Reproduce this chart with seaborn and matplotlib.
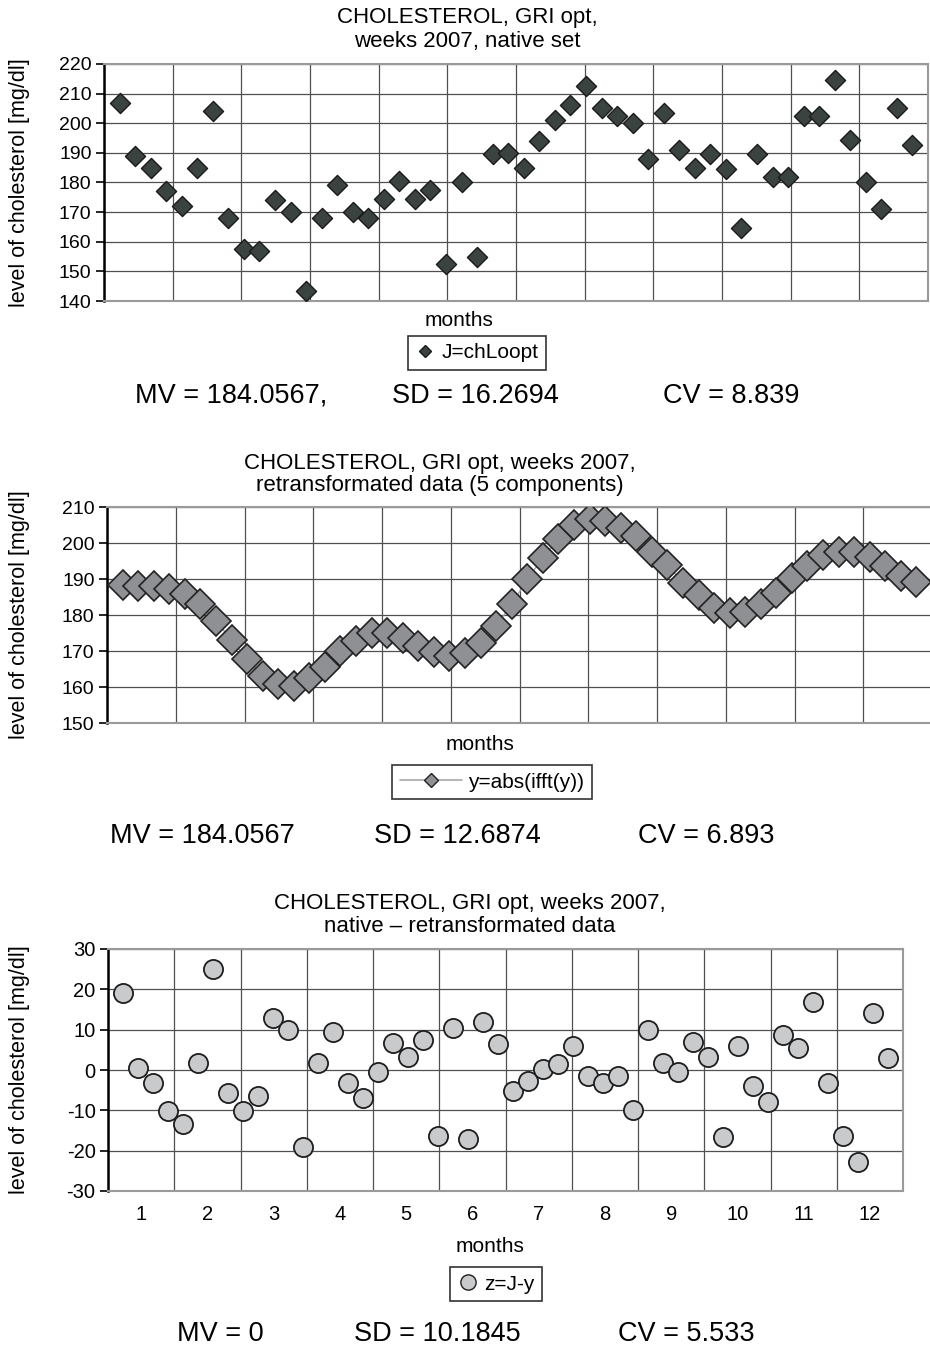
import numpy as np
import pandas as pd
import seaborn as sns
import matplotlib.pyplot as plt
from matplotlib.lines import Line2D

# weeks of 2007
weeks = list(range(1, 53))
month_labels = [str(m) for m in range(1, 13)]

# native cholesterol values [mg/dl]
native = [207, 189, 185, 177, 172, 185, 204, 168, 157.5, 157,
          174, 170, 143.5, 168, 179, 170, 168, 174.5, 180.5, 174.5,
          177.5, 152.5, 180, 155, 189.5, 190, 185, 194, 201, 206,
          212.5, 205, 202.5, 200, 188, 203.5, 191, 185, 189.5, 184.5,
          164.5, 189.5, 182, 182, 202.5, 202.5, 214.5, 194.5, 180, 171,
          205, 192.5]

# retransformed data (5 components)
retrans = [188.2, 188.0, 188.0, 187.3, 185.7, 183.0, 178.3, 173.1, 167.7, 163.1,
           160.8, 160.3, 162.6, 165.6, 170.0, 172.8, 174.9, 174.9, 173.7, 171.4,
           169.7, 168.6, 169.4, 172.3, 176.9, 183.0, 189.9, 195.9, 201.2, 204.9,
           206.6, 206.1, 204.3, 201.9, 197.5, 193.8, 189.0, 185.5, 182.0, 180.5,
           180.8, 183.0, 186.2, 190.4, 193.6, 196.6, 197.5, 197.5, 196.2, 193.6,
           190.8, 189.2]

# native - retransformed
resid = [19.0, 0.6, -3.1, -10.1, -13.5, 1.8, 25.0, -5.6, -10.2, -6.5,
         13.0, 9.9, -19.2, 1.8, 9.4, -3.3, -6.9, -0.4, 6.6, 3.3,
         7.4, -16.3, 10.3, -17.2, 12.0, 6.5, -5.1, -2.7, 0.2, 1.4,
         6.0, -1.5, -3.1, -1.5, -9.8, 9.9, 1.8, -0.4, 7.0, 3.3,
         -16.7, 6.0, -4.0, -8.0, 8.7, 5.5, 16.8, -3.1, -16.3, -22.8,
         14.1, 2.9]

df = pd.DataFrame({"week": weeks, "J": native, "y": retrans, "z": resid})

sns.set_style("white")
plt.rcParams["font.family"] = ["Liberation Sans", "DejaVu Sans"]
plt.rcParams["axes.unicode_minus"] = False
for k in ["text.color", "axes.labelcolor", "xtick.color", "ytick.color"]:
    plt.rcParams[k] = "black"

W, H = 930, 1349
fig = plt.figure(figsize=(W / 100, H / 100), dpi=100)


def px_axes(l, t, r, b):
    return fig.add_axes([l / W, 1 - b / H, (r - l) / W, (b - t) / H])


def put(x, y, s, fs):
    fig.text(x / W, 1 - y / H, s, ha="center", va="center", fontsize=fs)


def style_axes(ax, ylim, yticks, tick_fs=14, show_months=False):
    ax.set_xlim(0, 53)
    ax.set_ylim(*ylim)
    ax.set_yticks(yticks)
    bounds = np.linspace(0, 53, 13)
    ax.set_xticks(bounds, minor=True)
    if show_months:
        ax.set_xticks((bounds[:-1] + bounds[1:]) / 2)
        ax.set_xticklabels(month_labels)
    else:
        ax.set_xticks([])
    ax.grid(True, which="minor", axis="x", color="#505050", lw=0.9)
    ax.grid(True, which="major", axis="y", color="#505050", lw=0.9)
    ax.set_axisbelow(True)
    ax.tick_params(axis="y", which="both", left=True, length=6, width=1.2,
                   color="black", labelsize=tick_fs, pad=3)
    ax.tick_params(axis="x", which="both", length=0, labelsize=tick_fs, pad=10)
    for s in ["top", "right", "bottom"]:
        ax.spines[s].set_color("#9a9a9a")
        ax.spines[s].set_linewidth(1.5)
    ax.spines["left"].set_color("black")
    ax.spines["left"].set_linewidth(1.8)
    ax.set_xlabel("")
    ax.set_ylabel("level of cholesterol [mg/dl]", fontsize=15.5)


def legend_box(ax, handle, label, cx, cy, hl=1.0):
    leg = ax.legend([handle], [label], loc="center",
                    bbox_to_anchor=(cx / W, 1 - cy / H),
                    bbox_transform=fig.transFigure, fontsize=15,
                    frameon=True, fancybox=False, handlelength=hl,
                    handletextpad=0.3, borderpad=0.35)
    leg.get_frame().set_edgecolor("black")
    leg.get_frame().set_linewidth(1.2)


# ---- panel 1: native set
ax1 = px_axes(104, 64, 928, 301)
sns.scatterplot(data=df, x="week", y="J", ax=ax1, marker="D", s=105,
                color="#3b4341", edgecolor="#1a1a1a", linewidth=1.0, zorder=3)
style_axes(ax1, (140, 220), range(140, 221, 10))
ax1.yaxis.set_label_coords((30 - 104) / 824, 0.5)
put(467, 18, "CHOLESTEROL, GRI opt,", 16)
put(467, 41, "weeks 2007, native set", 16)
put(459, 320, "months", 15)
legend_box(ax1, Line2D([], [], ls="", marker="D", ms=6.5, mfc="#3b4341", mec="#1a1a1a"),
           "J=chLoopt", 477, 353)
put(231, 396, "MV = 184.0567,", 19.5)
put(475, 396, "SD = 16.2694", 19.5)
put(731, 396, "CV = 8.839", 19.5)

# ---- panel 2: retransformated data
ax2 = px_axes(107, 507, 932, 723)
sns.lineplot(data=df, x="week", y="y", ax=ax2, color="#a8a8a8", lw=1.0,
             marker="D", ms=15, markerfacecolor="#8e9093",
             markeredgecolor="#222222", markeredgewidth=1.2, zorder=3)
style_axes(ax2, (150, 210), range(150, 211, 10))
ax2.yaxis.set_label_coords((30 - 107) / 825, 0.5)
put(440, 463, "CHOLESTEROL, GRI opt, weeks 2007,", 16)
put(440, 486, "retransformated data (5 components)", 16)
put(480, 744, "months", 15)
legend_box(ax2, Line2D([], [], color="#a8a8a8", lw=1.2, marker="D", ms=7,
                       mfc="#8e9093", mec="#222222"),
           "y=abs(ifft(y))", 492, 782, hl=3.0)
put(202, 836, "MV = 184.0567", 19.5)
put(457, 836, "SD = 12.6874", 19.5)
put(706, 836, "CV = 6.893", 19.5)

# ---- panel 3: native - retransformated
ax3 = px_axes(108, 949, 903, 1191)
sns.scatterplot(data=df, x="week", y="z", ax=ax3, marker="o", s=190,
                color="#c9cacc", edgecolor="#1e1e1e", linewidth=1.3, zorder=3)
style_axes(ax3, (-30, 30), range(-30, 31, 10), tick_fs=14.5, show_months=True)
ax3.yaxis.set_label_coords((30 - 108) / 795, 0.5)
put(470, 903, "CHOLESTEROL, GRI opt, weeks 2007,", 16)
put(470, 926, "native \u2013 retransformated data", 16)
put(490, 1246, "months", 15)
legend_box(ax3, Line2D([], [], ls="", marker="o", ms=11, mfc="#c9cacc", mec="#1e1e1e"),
           "z=J-y", 496, 1284)
put(220, 1334, "MV = 0", 19.5)
put(437, 1334, "SD = 10.1845", 19.5)
put(686, 1334, "CV = 5.533", 19.5)

fig.savefig("out.png", dpi=100)
